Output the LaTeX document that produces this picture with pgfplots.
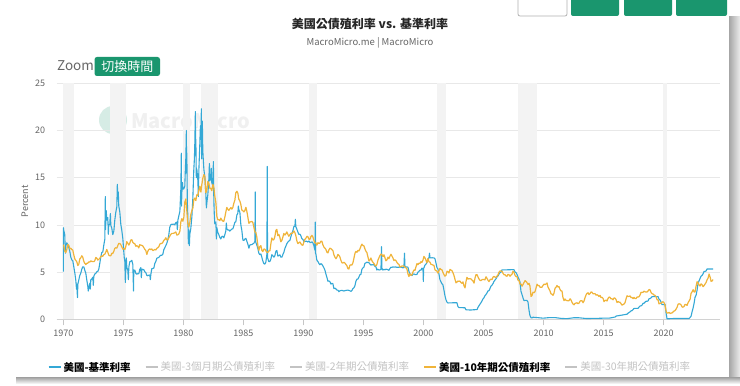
\documentclass[border=0pt]{standalone}
\usepackage{pgfplots}
\pgfplotsset{compat=1.18}
\usepackage{fontspec}
\setmainfont{Noto Sans CJK TC}
\definecolor{fedblue}{RGB}{52,168,214}
\definecolor{tenyel}{RGB}{240,180,58}
\definecolor{mmgreen}{RGB}{26,150,110}
\definecolor{recgray}{RGB}{243,243,243}
\definecolor{gridgray}{RGB}{232,232,232}
\definecolor{txtgray}{RGB}{102,102,102}
\definecolor{leggray}{RGB}{195,195,195}
\begin{document}
\begin{tikzpicture}
\useasboundingbox (0pt,0pt) rectangle (740pt,386pt);
\fill[white] (0pt,0pt) rectangle (740pt,386pt);
% card shadow
\shade[left color=gray!70, right color=gray!15] (729pt,2pt) rectangle (740pt,369pt);
\shade[top color=gray!65, bottom color=white] (16pt,2pt) rectangle (740pt,8pt);
% top right buttons
\draw[gray!60, rounded corners=2pt, line width=0.8pt] (518pt,392pt) rectangle (567pt,370pt);
\fill[mmgreen, rounded corners=2pt] (571pt,392pt) rectangle (619pt,370pt);
\fill[mmgreen, rounded corners=2pt] (624pt,392pt) rectangle (672pt,370pt);
\fill[mmgreen, rounded corners=2pt] (676pt,392pt) rectangle (727pt,370pt);
% titles
\node[font=\fontsize{12}{14}\selectfont\bfseries, text=black!85] at (370pt,362pt) {美國公債殖利率 vs. 基準利率};
\node[font=\fontsize{9.5}{11}\selectfont, text=txtgray] at (370pt,343pt) {MacroMicro.me | MacroMicro};
\node[font=\fontsize{13.5}{15}\selectfont, text=txtgray, anchor=west, inner sep=0pt] at (57pt,320pt) {Zoom};
\fill[mmgreen, rounded corners=2.5pt] (94.5pt,310pt) rectangle (160pt,329pt);
\node[font=\fontsize{13}{15}\selectfont, text=white, inner sep=0pt] at (127.3pt,319.5pt) {切換時間};
% watermark
\fill[mmgreen!18] (113pt,266pt) circle (14pt);
\node[font=\fontsize{20}{22}\selectfont\bfseries, text=gray!12, anchor=west, inner sep=0pt] at (131pt,266pt) {MacroMicro};
\begin{axis}[
  at={(56.7pt,66.7pt)}, anchor=south west,
  scale only axis, width=663.3pt, height=236pt,
  xmin=1969.45, xmax=2024.7, ymin=0, ymax=25,
  axis x line*=bottom, axis y line*=left,
  x axis line style={draw=gray!35, line width=0.7pt},
  y axis line style={draw=none},
  ytick={0,5,10,15,20,25},
  yticklabels={0,5,10,15,20,25},
  xtick={1970,1975,1980,1985,1990,1995,2000,2005,2010,2015,2020},
  xticklabels={1970,1975,1980,1985,1990,1995,2000,2005,2010,2015,2020},
  tick align=outside,
  ytick style={draw=none},
  xtick style={draw=gray!45, line width=0.7pt},
  major tick length=6pt,
  ymajorgrids, grid style={gridgray, line width=0.7pt},
  ticklabel style={font=\fontsize{9}{10}\selectfont, text=txtgray},
  xticklabel style={yshift=-1pt},
  yticklabel style={xshift=-2pt},
  ylabel={Percent},
  ylabel style={font=\fontsize{9}{10}\selectfont, text=txtgray, yshift=0pt},
  legend columns=5,
  legend style={draw=none, fill=none, at={(-0.0185,-0.2034)}, anchor=west,
    font=\fontsize{10.5}{12}\selectfont,
    /tikz/every even column/.append style={column sep=12pt}},
  legend image code/.code={\draw[#1, line width=2pt] (0pt,0pt) -- (12pt,0pt);},
  clip=true,
]
% recession shading
\addplot[fill=recgray, draw=none, forget plot] coordinates {(1969.95,25) (1970.85,25)} \closedcycle;
\addplot[fill=recgray, draw=none, forget plot] coordinates {(1973.88,25) (1975.2,25)} \closedcycle;
\addplot[fill=recgray, draw=none, forget plot] coordinates {(1979.95,25) (1980.55,25)} \closedcycle;
\addplot[fill=recgray, draw=none, forget plot] coordinates {(1981.45,25) (1982.85,25)} \closedcycle;
\addplot[fill=recgray, draw=none, forget plot] coordinates {(1990.5,25) (1991.17,25)} \closedcycle;
\addplot[fill=recgray, draw=none, forget plot] coordinates {(2001.1,25) (2001.85,25)} \closedcycle;
\addplot[fill=recgray, draw=none, forget plot] coordinates {(2007.85,25) (2009.45,25)} \closedcycle;
\addplot[fill=recgray, draw=none, forget plot] coordinates {(2019.95,25) (2020.25,25)} \closedcycle;
% Fed funds rate
\addplot[fedblue, line width=1.1pt, line join=round, forget plot] coordinates {
(1970.00,5.05)(1970.01,9.7)(1970.04,9.4)(1970.12,8.98)(1970.17,7.0)(1970.21,7.76)(1970.29,8.10)(1970.37,7.94)(1970.46,7.60)(1970.54,7.21)(1970.62,6.61)(1970.71,6.29)(1970.79,6.20)(1970.87,5.60)(1970.96,4.90)
(1971.04,4.14)(1971.10,3.2)(1971.12,3.72)(1971.18,2.3)(1971.21,3.71)(1971.29,4.16)(1971.37,4.63)(1971.46,4.91)(1971.54,5.31)(1971.62,5.56)(1971.71,5.55)(1971.79,5.20)(1971.87,4.91)(1971.96,4.14)
(1972.04,3.50)(1972.08,3.0)(1972.12,3.29)(1972.21,3.83)(1972.25,3.2)(1972.29,4.17)(1972.37,4.27)(1972.46,4.46)(1972.50,3.6)(1972.54,4.55)(1972.62,4.80)(1972.71,4.87)(1972.79,5.04)(1972.87,5.06)(1972.96,5.33)
(1973.04,5.94)(1973.12,6.58)(1973.21,7.09)(1973.29,7.12)(1973.37,7.84)(1973.46,8.49)(1973.50,13.0)(1973.52,9.5)(1973.54,10.40)(1973.58,11.5)(1973.62,10.50)(1973.71,10.78)(1973.75,9.0)(1973.79,10.01)(1973.87,10.03)(1973.92,11.2)(1973.96,9.95)
(1974.04,9.65)(1974.12,8.97)(1974.21,9.35)(1974.29,10.51)(1974.37,11.31)(1974.46,11.93)(1974.50,14.3)(1974.54,12.92)(1974.58,13.5)(1974.62,12.01)(1974.71,11.34)(1974.79,10.06)(1974.87,9.45)(1974.96,8.53)
(1975.04,7.13)(1975.08,6.5)(1975.12,6.24)(1975.17,3.9)(1975.21,5.54)(1975.25,6.5)(1975.29,5.49)(1975.37,5.22)(1975.42,4.2)(1975.46,5.55)(1975.54,6.10)(1975.62,6.14)(1975.71,6.24)(1975.79,5.82)(1975.85,3.0)(1975.87,5.22)(1975.96,5.20)
(1976.04,4.87)(1976.12,4.77)(1976.21,4.84)(1976.29,4.82)(1976.37,5.29)(1976.46,5.48)(1976.50,4.4)(1976.54,5.31)(1976.62,5.29)(1976.71,5.25)(1976.79,5.03)(1976.87,4.95)(1976.96,4.65)
(1977.04,4.61)(1977.12,4.68)(1977.21,4.69)(1977.25,4.2)(1977.29,4.73)(1977.37,5.35)(1977.46,5.39)(1977.54,5.42)(1977.62,5.90)(1977.71,6.14)(1977.79,6.47)(1977.87,6.51)(1977.96,6.56)
(1978.04,6.70)(1978.12,6.78)(1978.21,6.79)(1978.29,6.89)(1978.37,7.36)(1978.46,7.60)(1978.54,7.81)(1978.62,8.04)(1978.71,8.45)(1978.79,8.96)(1978.87,9.76)(1978.96,10.03)
(1979.04,10.07)(1979.12,10.06)(1979.21,10.09)(1979.29,10.01)(1979.37,10.24)(1979.46,10.29)(1979.50,9.5)(1979.54,10.47)(1979.62,10.94)(1979.71,11.43)(1979.79,13.77)(1979.83,17.6)(1979.85,12.0)(1979.87,13.18)(1979.92,14.5)(1979.96,13.78)
(1980.04,13.82)(1980.12,14.13)(1980.17,16.0)(1980.21,17.19)(1980.25,20.0)(1980.27,15.5)(1980.29,17.61)(1980.33,12.5)(1980.37,10.98)(1980.42,8.0)(1980.46,9.47)(1980.50,7.8)(1980.54,9.03)(1980.62,9.61)(1980.71,10.87)(1980.79,12.81)(1980.87,15.85)(1980.92,17.0)(1980.96,18.90)(1981.00,22.0)
(1981.02,17.5)(1981.04,19.08)(1981.08,15.0)(1981.12,15.93)(1981.21,14.70)(1981.25,13.0)(1981.29,15.72)(1981.37,18.52)(1981.42,20.5)(1981.46,19.10)(1981.50,22.3)(1981.52,17.0)(1981.54,19.04)(1981.58,21.0)(1981.62,17.82)(1981.71,15.87)(1981.79,15.08)(1981.87,13.31)(1981.92,11.8)(1981.96,12.37)
(1982.04,13.22)(1982.12,14.78)(1982.17,16.5)(1982.21,14.68)(1982.29,14.94)(1982.33,16.0)(1982.37,14.45)(1982.46,14.15)(1982.50,16.7)(1982.54,12.59)(1982.58,11.0)(1982.62,10.12)(1982.71,10.31)(1982.75,8.5)(1982.79,9.71)(1982.87,9.20)(1982.96,8.95)
(1983.04,8.68)(1983.12,8.51)(1983.21,8.77)(1983.29,8.80)(1983.37,8.63)(1983.46,8.98)(1983.54,9.37)(1983.58,10.2)(1983.62,9.56)(1983.71,9.45)(1983.79,9.48)(1983.87,9.34)(1983.96,9.47)
(1984.04,9.56)(1984.12,9.59)(1984.21,9.91)(1984.29,10.29)(1984.37,10.32)(1984.46,11.06)(1984.54,11.23)(1984.58,12.0)(1984.62,11.64)(1984.71,11.30)(1984.79,9.99)(1984.87,9.43)(1984.96,8.38)
(1985.04,8.35)(1985.12,8.50)(1985.21,8.58)(1985.29,8.27)(1985.37,7.97)(1985.46,7.53)(1985.54,7.88)(1985.62,7.90)(1985.71,7.92)(1985.79,7.99)(1985.87,8.05)(1985.96,8.27)(1985.99,13.5)
(1986.01,8.3)(1986.04,8.14)(1986.12,7.86)(1986.21,7.48)(1986.29,6.99)(1986.37,6.85)(1986.46,6.92)(1986.54,6.56)(1986.62,6.17)(1986.71,5.89)(1986.79,5.85)(1986.87,6.04)(1986.96,6.91)(1986.99,16.2)
(1987.01,6.5)(1987.04,6.43)(1987.12,6.10)(1987.21,6.13)(1987.29,6.37)(1987.37,6.85)(1987.46,6.73)(1987.54,6.58)(1987.62,6.73)(1987.71,7.22)(1987.79,7.29)(1987.87,6.69)(1987.96,6.77)
(1988.04,6.83)(1988.12,6.58)(1988.21,6.58)(1988.29,6.87)(1988.37,7.09)(1988.46,7.51)(1988.54,7.75)(1988.62,8.01)(1988.71,8.19)(1988.79,8.30)(1988.87,8.35)(1988.96,8.76)
(1989.04,9.12)(1989.12,9.36)(1989.21,9.85)(1989.29,9.84)(1989.33,10.6)(1989.37,9.81)(1989.46,9.53)(1989.54,9.24)(1989.62,8.99)(1989.71,9.02)(1989.79,8.84)(1989.87,8.55)(1989.96,8.45)
(1990.04,8.23)(1990.12,8.24)(1990.21,8.28)(1990.29,8.26)(1990.37,8.18)(1990.46,8.29)(1990.54,8.15)(1990.62,8.13)(1990.71,8.20)(1990.79,8.11)(1990.87,7.81)(1990.96,7.31)(1990.99,10.3)
(1991.01,7.0)(1991.04,6.91)(1991.12,6.25)(1991.21,6.12)(1991.29,5.91)(1991.37,5.78)(1991.46,5.90)(1991.54,5.82)(1991.62,5.66)(1991.71,5.45)(1991.79,5.21)(1991.87,4.81)(1991.96,4.43)
(1992.04,4.03)(1992.12,4.06)(1992.21,3.98)(1992.29,3.73)(1992.37,3.82)(1992.46,3.76)(1992.54,3.25)(1992.62,3.30)(1992.71,3.22)(1992.79,3.10)(1992.87,3.09)(1992.96,2.92)
(1993.04,3.02)(1993.21,3.07)(1993.37,3.00)(1993.54,3.06)(1993.71,3.09)(1993.87,3.02)(1993.96,2.96)
(1994.04,3.05)(1994.12,3.25)(1994.21,3.34)(1994.29,3.56)(1994.37,4.01)(1994.46,4.25)(1994.54,4.26)(1994.62,4.47)(1994.71,4.73)(1994.79,4.76)(1994.87,5.29)(1994.96,5.45)
(1995.04,5.53)(1995.12,5.92)(1995.21,5.98)(1995.29,6.05)(1995.37,6.01)(1995.46,6.00)(1995.54,5.85)(1995.62,5.74)(1995.71,5.80)(1995.79,5.76)(1995.87,5.80)(1995.96,5.60)
(1996.04,5.56)(1996.12,5.22)(1996.21,5.31)(1996.29,5.22)(1996.37,5.24)(1996.46,5.27)(1996.50,7.7)(1996.54,5.40)(1996.62,5.22)(1996.71,5.30)(1996.79,5.24)(1996.87,5.31)(1996.96,5.29)
(1997.04,5.25)(1997.12,5.19)(1997.21,5.39)(1997.29,5.51)(1997.37,5.50)(1997.46,5.56)(1997.54,5.52)(1997.62,5.54)(1997.71,5.54)(1997.79,5.50)(1997.87,5.52)(1997.96,5.50)
(1998.04,5.56)(1998.12,5.51)(1998.21,5.49)(1998.29,5.45)(1998.37,5.49)(1998.42,7.0)(1998.46,5.56)(1998.54,5.54)(1998.62,5.55)(1998.71,5.51)(1998.79,5.07)(1998.87,4.83)(1998.96,4.68)
(1999.04,4.63)(1999.12,4.76)(1999.21,4.81)(1999.29,4.74)(1999.37,4.74)(1999.46,4.76)(1999.54,4.99)(1999.62,5.07)(1999.71,5.22)(1999.79,5.20)(1999.87,5.42)(1999.96,5.30)(1999.99,4.0)
(2000.01,5.4)(2000.04,5.45)(2000.12,5.73)(2000.21,5.85)(2000.29,6.02)(2000.37,6.27)(2000.46,6.53)(2000.50,7.0)(2000.54,6.54)(2000.62,6.50)(2000.71,6.52)(2000.79,6.51)(2000.87,6.51)(2000.96,6.40)
(2001.04,5.98)(2001.12,5.49)(2001.21,5.31)(2001.29,4.80)(2001.37,4.21)(2001.46,3.97)(2001.54,3.77)(2001.62,3.65)(2001.71,3.07)(2001.79,2.49)(2001.87,2.09)(2001.96,1.82)
(2002.04,1.73)(2002.46,1.75)(2002.79,1.75)(2002.87,1.34)(2002.96,1.24)
(2003.04,1.24)(2003.46,1.22)(2003.54,1.01)(2003.96,0.98)
(2004.04,1.00)(2004.46,1.03)(2004.54,1.26)(2004.62,1.43)(2004.71,1.61)(2004.79,1.76)(2004.87,1.93)(2004.96,2.16)
(2005.04,2.28)(2005.12,2.50)(2005.21,2.63)(2005.29,2.79)(2005.37,3.00)(2005.46,3.04)(2005.54,3.26)(2005.62,3.50)(2005.71,3.62)(2005.79,3.78)(2005.87,4.00)(2005.96,4.16)
(2006.04,4.29)(2006.12,4.49)(2006.21,4.59)(2006.29,4.79)(2006.37,4.94)(2006.46,4.99)(2006.54,5.24)(2006.96,5.24)
(2007.04,5.25)(2007.54,5.26)(2007.62,5.02)(2007.71,4.94)(2007.79,4.76)(2007.87,4.49)(2007.96,4.24)
(2008.04,3.94)(2008.12,2.98)(2008.21,2.61)(2008.29,2.28)(2008.37,1.98)(2008.46,2.00)(2008.54,2.01)(2008.62,2.00)(2008.71,1.81)(2008.79,0.97)(2008.87,0.39)(2008.96,0.16)
(2009.04,0.15)(2009.12,0.22)(2009.50,0.18)(2009.96,0.12)(2010.50,0.18)(2010.96,0.18)(2011.50,0.09)(2011.96,0.07)(2012.50,0.16)(2012.96,0.16)(2013.50,0.09)(2013.96,0.09)(2014.50,0.10)(2014.96,0.12)(2015.50,0.13)(2015.96,0.24)
(2016.04,0.34)(2016.96,0.54)
(2017.04,0.65)(2017.21,0.79)(2017.29,0.90)(2017.37,0.91)(2017.46,1.04)(2017.54,1.15)(2017.87,1.16)(2017.96,1.30)
(2018.04,1.41)(2018.12,1.42)(2018.21,1.51)(2018.29,1.69)(2018.37,1.70)(2018.46,1.82)(2018.54,1.91)(2018.62,1.91)(2018.71,1.95)(2018.79,2.19)(2018.87,2.20)(2018.96,2.27)
(2019.04,2.40)(2019.54,2.40)(2019.62,2.13)(2019.71,2.04)(2019.79,1.83)(2019.87,1.55)(2019.96,1.55)
(2020.04,1.55)(2020.12,1.58)(2020.21,0.65)(2020.29,0.05)(2020.96,0.09)(2021.50,0.08)(2021.96,0.08)
(2022.04,0.08)(2022.12,0.08)(2022.21,0.20)(2022.29,0.33)(2022.37,0.77)(2022.46,1.21)(2022.54,1.68)(2022.62,2.33)(2022.71,2.56)(2022.79,3.08)(2022.87,3.78)(2022.96,4.10)
(2023.04,4.33)(2023.12,4.57)(2023.21,4.65)(2023.29,4.83)(2023.37,5.06)(2023.46,5.08)(2023.54,5.12)(2023.62,5.33)(2024.12,5.33)
};
% 10-year yield
\addplot[tenyel, line width=1.2pt, line join=round, forget plot] coordinates {
(1970.00,7.9)(1970.04,7.79)(1970.12,7.24)(1970.21,7.07)(1970.29,7.39)(1970.37,7.91)(1970.46,7.84)(1970.54,7.46)(1970.62,7.53)(1970.71,7.39)(1970.79,7.33)(1970.87,6.84)(1970.96,6.39)
(1971.04,6.24)(1971.12,6.11)(1971.21,5.70)(1971.29,5.83)(1971.37,6.39)(1971.46,6.52)(1971.54,6.73)(1971.62,6.58)(1971.71,6.14)(1971.79,5.93)(1971.87,5.81)(1971.96,5.93)
(1972.04,5.95)(1972.12,6.08)(1972.21,6.07)(1972.29,6.19)(1972.37,6.13)(1972.46,6.11)(1972.54,6.11)(1972.62,6.21)(1972.71,6.55)(1972.79,6.48)(1972.87,6.28)(1972.96,6.36)
(1973.04,6.46)(1973.12,6.64)(1973.21,6.71)(1973.29,6.67)(1973.37,6.85)(1973.46,6.90)(1973.54,7.13)(1973.62,7.40)(1973.71,7.09)(1973.79,6.79)(1973.87,6.73)(1973.96,6.74)
(1974.04,6.99)(1974.12,6.96)(1974.21,7.21)(1974.29,7.51)(1974.37,7.58)(1974.46,7.54)(1974.54,7.81)(1974.62,8.04)(1974.71,8.04)(1974.79,7.90)(1974.87,7.68)(1974.96,7.43)
(1975.04,7.50)(1975.12,7.39)(1975.21,7.73)(1975.29,8.23)(1975.37,8.06)(1975.46,7.86)(1975.54,8.06)(1975.62,8.40)(1975.71,8.43)(1975.79,8.14)(1975.87,8.05)(1975.96,8.00)
(1976.04,7.74)(1976.12,7.79)(1976.21,7.73)(1976.29,7.56)(1976.37,7.90)(1976.46,7.86)(1976.54,7.83)(1976.62,7.77)(1976.71,7.59)(1976.79,7.41)(1976.87,7.29)(1976.96,6.87)
(1977.04,7.21)(1977.12,7.39)(1977.21,7.46)(1977.29,7.37)(1977.37,7.46)(1977.46,7.28)(1977.54,7.33)(1977.62,7.40)(1977.71,7.34)(1977.79,7.52)(1977.87,7.58)(1977.96,7.69)
(1978.04,7.96)(1978.12,8.03)(1978.21,8.04)(1978.29,8.15)(1978.37,8.35)(1978.46,8.46)(1978.54,8.64)(1978.62,8.41)(1978.71,8.42)(1978.79,8.64)(1978.87,8.81)(1978.96,9.01)
(1979.04,9.10)(1979.12,9.10)(1979.21,9.12)(1979.29,9.18)(1979.37,9.25)(1979.46,8.91)(1979.54,8.95)(1979.62,9.03)(1979.71,9.33)(1979.79,10.30)(1979.87,10.65)(1979.96,10.39)
(1980.04,10.80)(1980.12,12.41)(1980.21,12.75)(1980.29,11.47)(1980.37,10.18)(1980.46,9.78)(1980.54,10.25)(1980.62,11.10)(1980.71,11.51)(1980.79,11.75)(1980.87,12.68)(1980.96,12.84)
(1981.04,12.57)(1981.12,13.19)(1981.21,13.12)(1981.29,13.68)(1981.37,14.10)(1981.46,13.47)(1981.54,14.28)(1981.62,14.94)(1981.71,15.32)(1981.79,15.15)(1981.87,13.39)(1981.96,13.72)
(1982.04,14.59)(1982.12,14.43)(1982.21,13.86)(1982.29,13.87)(1982.37,13.62)(1982.46,14.30)(1982.54,13.95)(1982.62,13.06)(1982.71,12.34)(1982.79,10.91)(1982.87,10.55)(1982.96,10.54)
(1983.04,10.46)(1983.12,10.72)(1983.21,10.51)(1983.29,10.40)(1983.37,10.38)(1983.46,10.85)(1983.54,11.38)(1983.62,11.85)(1983.71,11.65)(1983.79,11.54)(1983.87,11.69)(1983.96,11.83)
(1984.04,11.67)(1984.12,11.84)(1984.21,12.32)(1984.29,12.63)(1984.37,13.41)(1984.46,13.56)(1984.54,13.36)(1984.62,12.72)(1984.71,12.52)(1984.79,12.16)(1984.87,11.57)(1984.96,11.50)
(1985.04,11.38)(1985.12,11.51)(1985.21,11.86)(1985.29,11.43)(1985.37,10.85)(1985.46,10.16)(1985.54,10.31)(1985.62,10.33)(1985.71,10.37)(1985.79,10.24)(1985.87,9.78)(1985.96,9.26)
(1986.04,9.19)(1986.12,8.70)(1986.21,7.78)(1986.29,7.30)(1986.37,7.71)(1986.46,7.80)(1986.54,7.30)(1986.62,7.17)(1986.71,7.45)(1986.79,7.43)(1986.87,7.25)(1986.96,7.11)
(1987.04,7.08)(1987.12,7.25)(1987.21,7.25)(1987.29,8.02)(1987.37,8.61)(1987.46,8.40)(1987.54,8.45)(1987.62,8.76)(1987.71,9.42)(1987.79,9.52)(1987.87,8.86)(1987.96,8.99)
(1988.04,8.67)(1988.12,8.21)(1988.21,8.37)(1988.29,8.72)(1988.37,9.09)(1988.46,8.92)(1988.54,9.06)(1988.62,9.26)(1988.71,8.98)(1988.79,8.80)(1988.87,8.96)(1988.96,9.11)
(1989.04,9.09)(1989.12,9.17)(1989.21,9.36)(1989.29,9.18)(1989.37,8.86)(1989.46,8.28)(1989.54,8.02)(1989.62,8.11)(1989.71,8.19)(1989.79,8.01)(1989.87,7.87)(1989.96,7.84)
(1990.04,8.21)(1990.12,8.47)(1990.21,8.59)(1990.29,8.79)(1990.37,8.76)(1990.46,8.48)(1990.54,8.47)(1990.62,8.75)(1990.71,8.89)(1990.79,8.72)(1990.87,8.39)(1990.96,8.08)
(1991.04,8.09)(1991.12,7.85)(1991.21,8.11)(1991.29,8.04)(1991.37,8.07)(1991.46,8.28)(1991.54,8.27)(1991.62,7.90)(1991.71,7.65)(1991.79,7.53)(1991.87,7.42)(1991.96,7.09)
(1992.04,7.03)(1992.12,7.34)(1992.21,7.54)(1992.29,7.48)(1992.37,7.39)(1992.46,7.26)(1992.54,6.84)(1992.62,6.59)(1992.71,6.42)(1992.79,6.59)(1992.87,6.87)(1992.96,6.77)
(1993.04,6.60)(1993.12,6.26)(1993.21,5.98)(1993.29,5.97)(1993.37,6.04)(1993.46,5.96)(1993.54,5.81)(1993.62,5.68)(1993.71,5.36)(1993.79,5.33)(1993.87,5.72)(1993.96,5.77)
(1994.04,5.75)(1994.12,5.97)(1994.21,6.48)(1994.29,6.97)(1994.37,7.18)(1994.46,7.10)(1994.54,7.30)(1994.62,7.24)(1994.71,7.46)(1994.79,7.74)(1994.87,7.96)(1994.96,7.81)
(1995.04,7.78)(1995.12,7.47)(1995.21,7.20)(1995.29,7.06)(1995.37,6.63)(1995.46,6.17)(1995.54,6.28)(1995.62,6.49)(1995.71,6.20)(1995.79,6.04)(1995.87,5.93)(1995.96,5.71)
(1996.04,5.65)(1996.12,5.81)(1996.21,6.27)(1996.29,6.51)(1996.37,6.74)(1996.46,6.91)(1996.54,6.87)(1996.62,6.64)(1996.71,6.83)(1996.79,6.53)(1996.87,6.20)(1996.96,6.30)
(1997.04,6.58)(1997.12,6.42)(1997.21,6.69)(1997.29,6.89)(1997.37,6.71)(1997.46,6.49)(1997.54,6.22)(1997.62,6.30)(1997.71,6.21)(1997.79,6.03)(1997.87,5.88)(1997.96,5.81)
(1998.04,5.54)(1998.12,5.57)(1998.21,5.65)(1998.29,5.64)(1998.37,5.65)(1998.46,5.50)(1998.54,5.46)(1998.62,5.34)(1998.71,4.81)(1998.79,4.53)(1998.87,4.83)(1998.96,4.65)
(1999.04,4.72)(1999.12,5.00)(1999.21,5.23)(1999.29,5.18)(1999.37,5.54)(1999.46,5.90)(1999.54,5.79)(1999.62,5.94)(1999.71,5.92)(1999.79,6.11)(1999.87,6.03)(1999.96,6.28)
(2000.04,6.66)(2000.12,6.52)(2000.21,6.26)(2000.29,5.99)(2000.37,6.44)(2000.46,6.10)(2000.54,6.05)(2000.62,5.83)(2000.71,5.80)(2000.79,5.74)(2000.87,5.72)(2000.96,5.24)
(2001.04,5.16)(2001.12,5.10)(2001.21,4.89)(2001.29,5.14)(2001.37,5.39)(2001.46,5.28)(2001.54,5.24)(2001.62,4.97)(2001.71,4.73)(2001.79,4.57)(2001.87,4.65)(2001.96,5.09)
(2002.04,5.04)(2002.12,4.91)(2002.21,5.28)(2002.29,5.21)(2002.37,5.16)(2002.46,4.93)(2002.54,4.65)(2002.62,4.26)(2002.71,3.87)(2002.79,3.94)(2002.87,4.05)(2002.96,4.03)
(2003.04,4.05)(2003.12,3.90)(2003.21,3.81)(2003.29,3.96)(2003.37,3.57)(2003.46,3.33)(2003.54,3.98)(2003.62,4.45)(2003.71,4.27)(2003.79,4.29)(2003.87,4.30)(2003.96,4.27)
(2004.04,4.15)(2004.12,4.08)(2004.21,3.83)(2004.29,4.35)(2004.37,4.72)(2004.46,4.73)(2004.54,4.50)(2004.62,4.28)(2004.71,4.13)(2004.79,4.10)(2004.87,4.19)(2004.96,4.23)
(2005.04,4.22)(2005.12,4.17)(2005.21,4.50)(2005.29,4.34)(2005.37,4.14)(2005.46,4.00)(2005.54,4.18)(2005.62,4.26)(2005.71,4.20)(2005.79,4.46)(2005.87,4.54)(2005.96,4.47)
(2006.04,4.42)(2006.12,4.57)(2006.21,4.72)(2006.29,4.99)(2006.37,5.11)(2006.46,5.11)(2006.54,5.09)(2006.62,4.88)(2006.71,4.72)(2006.79,4.73)(2006.87,4.60)(2006.96,4.56)
(2007.04,4.76)(2007.12,4.72)(2007.21,4.56)(2007.29,4.69)(2007.37,4.75)(2007.46,5.10)(2007.54,5.00)(2007.62,4.67)(2007.71,4.52)(2007.79,4.53)(2007.87,4.15)(2007.96,4.10)
(2008.04,3.74)(2008.12,3.74)(2008.21,3.51)(2008.29,3.68)(2008.37,3.88)(2008.46,4.10)(2008.54,4.01)(2008.62,3.89)(2008.71,3.69)(2008.79,3.81)(2008.87,3.53)(2008.96,2.42)
(2009.04,2.52)(2009.12,2.87)(2009.21,2.82)(2009.29,2.93)(2009.37,3.29)(2009.46,3.72)(2009.54,3.56)(2009.62,3.59)(2009.71,3.40)(2009.79,3.39)(2009.87,3.40)(2009.96,3.59)
(2010.04,3.73)(2010.12,3.69)(2010.21,3.73)(2010.29,3.85)(2010.37,3.42)(2010.46,3.20)(2010.54,3.01)(2010.62,2.70)(2010.71,2.65)(2010.79,2.54)(2010.87,2.76)(2010.96,3.29)
(2011.04,3.39)(2011.12,3.58)(2011.21,3.41)(2011.29,3.46)(2011.37,3.17)(2011.46,3.00)(2011.54,3.00)(2011.62,2.30)(2011.71,1.98)(2011.79,2.15)(2011.87,2.01)(2011.96,1.98)
(2012.04,1.97)(2012.12,1.97)(2012.21,2.17)(2012.29,2.05)(2012.37,1.80)(2012.46,1.62)(2012.54,1.53)(2012.62,1.68)(2012.71,1.72)(2012.79,1.75)(2012.87,1.65)(2012.96,1.72)
(2013.04,1.91)(2013.12,1.98)(2013.21,1.96)(2013.29,1.76)(2013.37,1.93)(2013.46,2.30)(2013.54,2.58)(2013.62,2.74)(2013.71,2.81)(2013.79,2.62)(2013.87,2.72)(2013.96,2.90)
(2014.04,2.86)(2014.12,2.71)(2014.21,2.72)(2014.29,2.71)(2014.37,2.56)(2014.46,2.60)(2014.54,2.54)(2014.62,2.42)(2014.71,2.53)(2014.79,2.30)(2014.87,2.33)(2014.96,2.21)
(2015.04,1.88)(2015.12,1.98)(2015.21,2.04)(2015.29,1.94)(2015.37,2.20)(2015.46,2.36)(2015.54,2.32)(2015.62,2.17)(2015.71,2.17)(2015.79,2.07)(2015.87,2.26)(2015.96,2.24)
(2016.04,2.09)(2016.12,1.78)(2016.21,1.89)(2016.29,1.81)(2016.37,1.81)(2016.46,1.64)(2016.54,1.50)(2016.62,1.56)(2016.71,1.63)(2016.79,1.76)(2016.87,2.14)(2016.96,2.49)
(2017.04,2.43)(2017.12,2.42)(2017.21,2.48)(2017.29,2.30)(2017.37,2.30)(2017.46,2.19)(2017.54,2.32)(2017.62,2.21)(2017.71,2.20)(2017.79,2.36)(2017.87,2.35)(2017.96,2.40)
(2018.04,2.58)(2018.12,2.86)(2018.21,2.84)(2018.29,2.87)(2018.37,2.98)(2018.46,2.91)(2018.54,2.89)(2018.62,2.89)(2018.71,3.00)(2018.79,3.15)(2018.87,3.12)(2018.96,2.83)
(2019.04,2.71)(2019.12,2.68)(2019.21,2.57)(2019.29,2.53)(2019.37,2.40)(2019.46,2.07)(2019.54,2.06)(2019.62,1.63)(2019.71,1.70)(2019.79,1.71)(2019.87,1.81)(2019.96,1.86)
(2020.04,1.76)(2020.12,1.50)(2020.21,0.87)(2020.29,0.66)(2020.37,0.67)(2020.46,0.73)(2020.54,0.62)(2020.62,0.65)(2020.71,0.68)(2020.79,0.79)(2020.87,0.87)(2020.96,0.93)
(2021.04,1.08)(2021.12,1.26)(2021.21,1.61)(2021.29,1.64)(2021.37,1.62)(2021.46,1.52)(2021.54,1.32)(2021.62,1.28)(2021.71,1.37)(2021.79,1.58)(2021.87,1.56)(2021.96,1.47)
(2022.04,1.76)(2022.12,1.93)(2022.21,2.13)(2022.29,2.75)(2022.37,2.90)(2022.46,3.14)(2022.54,2.90)(2022.62,2.90)(2022.71,3.52)(2022.79,3.98)(2022.87,3.89)(2022.96,3.62)
(2023.04,3.53)(2023.12,3.75)(2023.21,3.66)(2023.29,3.46)(2023.37,3.57)(2023.46,3.75)(2023.54,3.90)(2023.62,4.17)(2023.71,4.38)(2023.79,4.80)(2023.87,4.50)(2023.96,4.02)
(2024.04,4.06)(2024.12,4.21)
};
% legend
\addlegendimage{draw=fedblue}
\addlegendentry{\textbf{美國-基準利率}}
\addlegendimage{draw=leggray}
\addlegendentry{\textcolor{leggray}{美國-3個月期公債殖利率}}
\addlegendimage{draw=leggray}
\addlegendentry{\textcolor{leggray}{美國-2年期公債殖利率}}
\addlegendimage{draw=tenyel}
\addlegendentry{\textbf{美國-10年期公債殖利率}}
\addlegendimage{draw=leggray}
\addlegendentry{\textcolor{leggray}{美國-30年期公債殖利率}}
\end{axis}
\end{tikzpicture}
\end{document}
